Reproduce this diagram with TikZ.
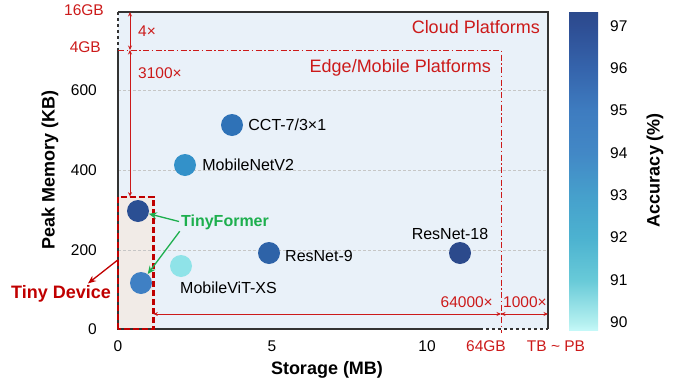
\documentclass[tikz,border=0pt]{standalone}
\usepackage{fontspec}
\setmainfont{Liberation Sans}
\usetikzlibrary{arrows.meta}
\usetikzlibrary{positioning}

\definecolor{plotbg}{HTML}{E9F1F9}
\definecolor{tinybg}{HTML}{F1EBE7}
\definecolor{cred}{HTML}{CC1A1A}
\definecolor{cdeep}{HTML}{C00000}
\definecolor{cgreen}{HTML}{1DAF4E}
\definecolor{cframe}{HTML}{333333}
\definecolor{acc89}{HTML}{C4F8F8}
\definecolor{acc90}{HTML}{B4F0F0}
\definecolor{acc91}{HTML}{68CAD8}
\definecolor{acc92}{HTML}{4CB2D0}
\definecolor{acc93}{HTML}{46A0CC}
\definecolor{acc94}{HTML}{4288C6}
\definecolor{acc95}{HTML}{3E7CC0}
\definecolor{acc96}{HTML}{3564AC}
\definecolor{acc97}{HTML}{2E4E94}
\definecolor{acc98}{HTML}{2C4A8C}
\definecolor{ptTFa}{HTML}{2B4F93}
\definecolor{ptTFb}{HTML}{3F80C4}
\definecolor{ptCCT}{HTML}{2F72B7}
\definecolor{ptMNV}{HTML}{3391C9}
\definecolor{ptMVT}{HTML}{8FE3E8}
\definecolor{ptRNa}{HTML}{2E63A8}
\definecolor{ptRNb}{HTML}{2C4A8C}
\pgfdeclareverticalshading{accbar}{100bp}{color(0bp)=(acc89); color(25bp)=(acc89); color(26.1bp)=(acc90); color(32.8bp)=(acc91); color(39.5bp)=(acc92); color(46.1bp)=(acc93); color(52.8bp)=(acc94); color(59.5bp)=(acc95); color(66.1bp)=(acc96); color(72.8bp)=(acc97); color(75bp)=(acc98); color(100bp)=(acc98)}

\begin{document}
\begin{tikzpicture}[x=1pt,y=-1pt,
  dot/.style={circle,inner sep=0pt,minimum size=22pt},
  nm/.style={font=\fontsize{16}{19}\selectfont,inner sep=0pt},
  tk/.style={font=\fontsize{15.5}{18}\selectfont,inner sep=0pt},
  rd/.style={font=\fontsize{15.5}{18}\selectfont,text=cred,inner sep=0pt},
  big/.style={font=\fontsize{18}{21}\selectfont,inner sep=0pt},
  bigb/.style={font=\fontsize{18}{21}\selectfont\bfseries,inner sep=0pt},
  dim/.style={cred,line width=0.8pt,{Stealth[length=4.5pt,width=4pt]}-{Stealth[length=4.5pt,width=4pt]}},
  gline/.style={draw=gray!45,line width=0.6pt,dash pattern=on 3pt off 2pt},
  frm/.style={cframe,line width=1.2pt},
  garrow/.style={cgreen,line width=1.3pt,shorten <=2pt,-{Stealth[length=8pt,width=7pt]}}]
\useasboundingbox (0,0) rectangle (689,386);

\fill[plotbg] (118,12) rectangle (548,329);
\node[fill=tinybg,minimum width=35pt,minimum height=132pt,inner sep=0pt,anchor=south west] (tiny) at (118,329) {};
\foreach \y in {90,170,250} \draw[gline] (118,\y) -- (548,\y);

\draw[frm] (118,50) -- (118,329) -- (480,329);
\draw[frm,dashed] (480,329) -- (548,329);
\draw[frm] (548,329) -- (548,12) -- (118,12);
\draw[frm,dashed] (118,12) -- (118,50);

\draw[cred,line width=1pt,dash pattern=on 6pt off 2.5pt on 1.5pt off 2.5pt] (118,50) -- (501,50) -- (501,333);
\draw[cdeep,line width=2.2pt,dash pattern=on 6pt off 3pt] (tiny.south west) rectangle (tiny.north east);

\coordinate (m16) at (130,12);
\coordinate (m4) at (130,50);
\coordinate (s64) at (501,314);
\coordinate (sTB) at (548,314);
\draw[dim] (m16) -- (m4);
\draw[dim] (m4) -- (tiny.north -| m4);
\draw[dim] (tiny.east |- s64) -- (s64);
\draw[dim] (s64) -- (sTB);

\node[rd,anchor=east] (l16) at (104,10) {16GB};
\node[rd,anchor=east] (l4) at (101,47) {4GB};
\node[rd,anchor=west] (r4) at (138,31) {4×};
\node[rd,anchor=west] (r3100) at (138,73) {3100×};
\node[rd,anchor=east] (r64k) at (493,302) {64000×};
\node[rd,anchor=west] (r1k) at (503,302) {1000×};
\node[rd] (l64) at (486,346) {64GB};
\node[rd] (lTB) at (556,346) {TB \textasciitilde{} PB};
\node[big,text=cred,anchor=east] (cloud) at (540,27) {Cloud Platforms};
\node[big,text=cred,anchor=east] (edge) at (491,68) {Edge/Mobile Platforms};

\foreach \v/\y in {0/329,200/250,400/170,600/90} \node[tk,anchor=east] (yt\v) at (97,\y) {\v};
\foreach \v/\x in {0/118,5/272,10/427} \node[tk] (xt\v) at (\x,346) {\v};
\node[bigb,rotate=90] (ylab) at (50,170) {Peak Memory (KB)};
\node[bigb] (xlab) at (327,370) {Storage (MB)};

\shade[shading=accbar] (569,12) rectangle (598,330);
\foreach \v in {90,...,97} \node[tk,anchor=west] (ct\v) at (610,{322-(\v-90)*42.3}) {\v};
\node[bigb,rotate=90] (clab) at (655,170) {Accuracy (\%)};

\node[dot,fill=ptCCT] (cct) at (232,125) {};
\node[nm,right=5pt of cct] (cctl) {CCT-7/3×1};
\node[dot,fill=ptMNV] (mnv) at (185,165) {};
\node[nm,right=6pt of mnv] (mnvl) {MobileNetV2};
\node[dot,fill=ptTFa] (tfa) at (138,211) {};
\node[dot,fill=ptTFb] (tfb) at (141,283) {};
\node[dot,fill=ptMVT] (mvt) at (181,266) {};
\node[nm,anchor=west] (mvtl) at (180,288) {MobileViT-XS};
\node[dot,fill=ptRNa] (rna) at (269,253) {};
\node[nm,anchor=west] (rnal) at (285,256) {ResNet-9};
\node[dot,fill=ptRNb] (rnb) at (460,253) {};
\node[nm] (rnbl) at (450,234) {ResNet-18};

\node[nm,font=\fontsize{16}{19}\selectfont\bfseries,text=cgreen] (tfl) at (225,222) {TinyFormer};
\draw[garrow] (tfl.west) -- (tfa);
\draw[garrow] (tfl.south west) -- (tfb);

\node[bigb,text=cdeep] (tdev) at (61,294) {Tiny Device};
\draw[cdeep,line width=1.3pt,-{Stealth[length=8pt,width=6.5pt]}] ([yshift=3pt]tiny.west) -- ([xshift=27pt,yshift=2pt]tdev.north);

\end{tikzpicture}
\end{document}
